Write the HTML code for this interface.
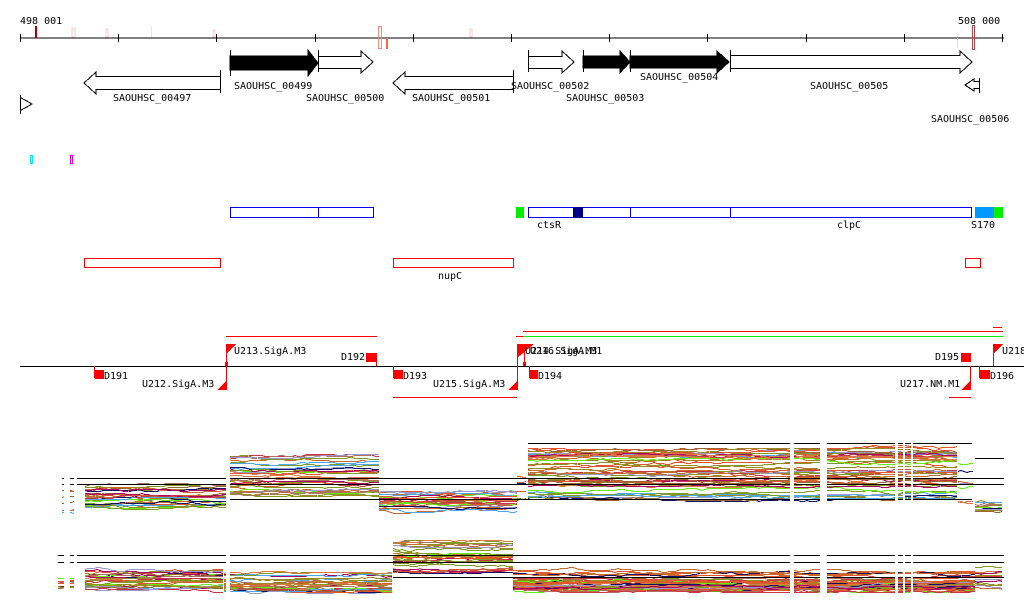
<!DOCTYPE html>
<html><head><meta charset="utf-8"><style>
body{margin:0;background:#fff;width:1024px;height:611px;overflow:hidden}
svg{display:block}
text{font-family:"DejaVu Sans Mono","Liberation Mono",monospace;font-size:10px;fill:#000}
.s{font-size:10px}
</style></head><body>
<svg id="sv" width="1024" height="611" viewBox="0 0 1024 611" shape-rendering="crispEdges">
<text x="20" y="24">498 001</text>
<text x="958" y="24">508 000</text>
<line x1="20" y1="38" x2="1004" y2="38" stroke="#000"/>
<g stroke="#000">
<line x1="20.5" y1="34" x2="20.5" y2="42"/><line x1="118.5" y1="34" x2="118.5" y2="42"/><line x1="216.5" y1="34" x2="216.5" y2="42"/><line x1="315.5" y1="34" x2="315.5" y2="42"/><line x1="413.5" y1="34" x2="413.5" y2="42"/><line x1="511.5" y1="34" x2="511.5" y2="42"/><line x1="609.5" y1="34" x2="609.5" y2="42"/><line x1="707.5" y1="34" x2="707.5" y2="42"/><line x1="806.5" y1="34" x2="806.5" y2="42"/><line x1="904.5" y1="34" x2="904.5" y2="42"/><line x1="1002.5" y1="34" x2="1002.5" y2="42"/>
</g>
<rect x="35" y="26" width="2" height="12" fill="#a00"/>
<rect x="72" y="28" width="3" height="9" fill="none" stroke="#fcc"/>
<rect x="106" y="29" width="2" height="8" fill="none" stroke="#fcc"/>
<rect x="151" y="27" width="1" height="10" fill="#fdd"/>
<rect x="213" y="30" width="2" height="7" fill="none" stroke="#fcc"/>
<rect x="378.5" y="26.5" width="3" height="22" fill="none" stroke="#f87"/>
<rect x="386" y="38" width="2" height="11" fill="#f64"/>
<rect x="470" y="29" width="2" height="8" fill="none" stroke="#fcc"/>
<rect x="957" y="38" width="1" height="10" fill="#fcc"/>
<rect x="972.5" y="25.5" width="2" height="24" fill="none" stroke="#b44"/>
<g stroke="#000" fill="#fff">
<polygon points="230,56 308,56 308,50 318,63 308,76 308,70 230,70" fill="#000"/>
<line x1="230.5" y1="50" x2="230.5" y2="76"/>
<polygon points="318.5,56.5 361,56.5 361,51 373,62 361,73 361,68.5 318.5,68.5"/>
<line x1="318.5" y1="50" x2="318.5" y2="72"/>
<polygon points="220.5,76.5 96,76.5 96,72 84,83 96,94 96,89.5 220.5,89.5"/>
<line x1="220.5" y1="70" x2="220.5" y2="93"/>
<polygon points="513.5,76.5 405,76.5 405,72 393,83 405,94 405,89.5 513.5,89.5"/>
<line x1="513.5" y1="70" x2="513.5" y2="93"/>
<polygon points="528.5,56.5 562,56.5 562,51 574,62 562,73 562,68.5 528.5,68.5"/>
<line x1="528.5" y1="50" x2="528.5" y2="72"/>
<polygon points="583,56 620,56 620,51 630,62 620,73 620,68 583,68" fill="#000"/>
<line x1="583.5" y1="50" x2="583.5" y2="72"/>
<polygon points="630,56 717,56 717,51 729,62 717,73 717,68 630,68" fill="#000"/>
<line x1="630.5" y1="50" x2="630.5" y2="72"/>
<polygon points="730.5,55.5 960,55.5 960,51 972,62 960,73 960,68.5 730.5,68.5"/>
<line x1="730.5" y1="50" x2="730.5" y2="72"/>
<polygon points="979.5,81.5 974,81.5 974,79 965,85 974,91 974,88.5 979.5,88.5"/>
<line x1="979.5" y1="78" x2="979.5" y2="93"/>
<line x1="20.5" y1="95" x2="20.5" y2="114"/>
<polygon points="20.5,97.5 32,104 20.5,110.5"/>
</g>
<text x="113" y="101">SAOUHSC_00497</text>
<text x="234" y="89">SAOUHSC_00499</text>
<text x="306" y="101">SAOUHSC_00500</text>
<text x="412" y="101">SAOUHSC_00501</text>
<text x="511" y="89">SAOUHSC_00502</text>
<text x="566" y="101">SAOUHSC_00503</text>
<text x="640" y="80">SAOUHSC_00504</text>
<text x="810" y="89">SAOUHSC_00505</text>
<text x="931" y="122">SAOUHSC_00506</text>
<rect x="30.5" y="155.5" width="2" height="8" fill="none" stroke="#0ee"/>
<rect x="70.5" y="155.5" width="2" height="8" fill="none" stroke="#e0e"/>
<g fill="none" stroke="#00e">
<rect x="230.5" y="207.5" width="143" height="10"/><line x1="318.5" y1="207" x2="318.5" y2="218"/>
<rect x="528.5" y="207.5" width="443" height="10"/>
<line x1="630.5" y1="207" x2="630.5" y2="218"/><line x1="730.5" y1="207" x2="730.5" y2="218"/>
</g>
<rect x="573" y="207" width="10" height="11" fill="#008"/>
<rect x="516" y="207" width="8" height="11" fill="#0e0"/>
<rect x="975" y="207" width="19" height="11" fill="#09f"/>
<rect x="994" y="207" width="9" height="11" fill="#0e0"/>
<text x="537" y="228" class="s">ctsR</text><text x="837" y="228" class="s">clpC</text><text x="971" y="228" class="s">S170</text>
<g fill="none" stroke="#f00">
<rect x="84.5" y="258.5" width="136" height="9"/>
<rect x="393.5" y="258.5" width="120" height="9"/>
<rect x="965.5" y="258.5" width="15" height="9"/>
</g>
<text x="438" y="279" class="s">nupC</text>
<line x1="20" y1="366.5" x2="1024" y2="366.5" stroke="#000"/>
<g stroke="#f00" fill="none">
<line x1="226" y1="336.5" x2="377" y2="336.5"/>
<line x1="393" y1="397.5" x2="517" y2="397.5"/>
<line x1="523" y1="331.5" x2="1003" y2="331.5"/>
<line x1="516" y1="336.5" x2="523" y2="336.5"/>
<line x1="993" y1="327.5" x2="1002" y2="327.5"/>
<line x1="949" y1="397.5" x2="971" y2="397.5"/>
<line x1="94.5" y1="366" x2="94.5" y2="378"/>
<line x1="226.5" y1="344" x2="226.5" y2="390"/>
<line x1="376.5" y1="353" x2="376.5" y2="366"/>
<line x1="393.5" y1="366" x2="393.5" y2="378"/>
<line x1="517.5" y1="344" x2="517.5" y2="390"/>
<line x1="524.5" y1="344" x2="524.5" y2="366"/>
<line x1="529.5" y1="366" x2="529.5" y2="378"/>
<line x1="970.5" y1="366" x2="970.5" y2="390"/>
<line x1="979.5" y1="366" x2="979.5" y2="378"/>
<line x1="993.5" y1="344" x2="993.5" y2="366"/>
</g>
<line x1="523" y1="336.5" x2="1003" y2="336.5" stroke="#0e0"/>
<g fill="#f00">
<rect x="95" y="370" width="9" height="9"/>
<polygon points="227,344 236,344 227,353"/><polygon points="217,390 226,381 226,390"/>
<rect x="366" y="353" width="10" height="9"/>
<rect x="394" y="370" width="9" height="9"/>
<polygon points="508,390 517,381 517,390"/>
<polygon points="517,344 534,344 517,358"/>
<rect x="530" y="370" width="8" height="9"/>
<rect x="961" y="353" width="10" height="9"/>
<polygon points="961,390 970,381 970,390"/>
<rect x="980" y="370" width="10" height="9"/>
<polygon points="994,344 1003,344 994,353"/>
<rect x="225" y="362" width="3" height="4"/><rect x="523" y="362" width="3" height="4"/>
</g>
<text x="234" y="354">U213.SigA.M3</text>
<text x="341" y="360">D192</text>
<text x="104" y="379">D191</text>
<text x="142" y="387">U212.SigA.M3</text>
<text x="403" y="379">D193</text>
<text x="433" y="387">U215.SigA.M3</text>
<text x="525" y="354">U214.SigA.M3</text><text x="530" y="354">U216.SigA.M1</text>
<text x="538" y="379">D194</text>
<text x="935" y="360">D195</text>
<text x="900" y="387">U217.NM.M1</text>
<text x="990" y="379">D196</text>
<text x="1002" y="354">U218</text>
<g id="plots"></g>
</svg>
<script>
(function(){
var g=document.getElementById('plots');var NS='http://www.w3.org/2000/svg';
var seed=11;function r(){seed=(seed*16807)%2147483647;return seed/2147483647;}
var cols=['#e2562b','#c86a2a','#7f9a1e','#9a8a20','#66ee11','#4aa8f0','#9999cc','#aa0066','#111166','#b07060','#cc3344','#996633','#dd7744','#e2562b','#c86a2a','#7f9a1e'];
function seg(x0,x1,ylo,yhi,n,pow){
 for(var i=0;i<n;i++){
  var t=Math.pow(r(),pow||1);var base=ylo+(yhi-ylo)*t,pts=[],y=base;
  for(var x=x0;x<=x1;x+=3){ if(r()<0.25){y+=(r()<0.5?-1:1);} if(y<base-3)y=base-3; if(y>base+3)y=base+3; pts.push(x+','+Math.round(y)+'.5');}
  var p=document.createElementNS(NS,'polyline');
  p.setAttribute('points',pts.join(' '));p.setAttribute('fill','none');
  p.setAttribute('stroke',cols[Math.floor(r()*cols.length)]);
  g.appendChild(p);
 }
}
function line(x0,x1,y,c){var l=document.createElementNS(NS,'line');l.setAttribute('x1',x0);l.setAttribute('x2',x1);l.setAttribute('y1',y);l.setAttribute('y2',y);l.setAttribute('stroke',c||'#000');g.appendChild(l);}
function wr(x0,x1){var b=document.createElementNS(NS,'rect');b.setAttribute('x',x0);b.setAttribute('width',x1-x0);b.setAttribute('y',435);b.setAttribute('height',165);b.setAttribute('fill','#fff');g.appendChild(b);}
// panel 1
seg(62,78,490,512,8);
seg(85,229,482,508,28,0.6);
seg(229,379,455,498,32);
seg(379,517,492,510,24);
seg(517,528,475,505,8);
seg(528,958,448,498,50,1.3);
seg(958,975,460,505,8);
seg(975,1004,500,512,10);
line(528,972,443.5);line(975,1004,458.5);
line(62,1004,478.5);line(62,1004,484.5);line(228,972,499.5);
// panel 2
seg(58,78,577,592,8);
seg(85,224,566,590,28,0.7);
seg(224,393,570,592,26,0.6);
seg(393,513,540,572,30);
seg(513,975,568,590,50,0.6);
seg(975,1004,566,588,14);
line(58,1004,555.5);line(58,1004,562.5);line(393,1004,577.5);
[[790,794],[820,827],[895,898],[903,905],[911,913],[64,70],[74,77],[226,230]].forEach(function(gp){wr(gp[0],gp[1]);});
})();
</script>
</body></html>
